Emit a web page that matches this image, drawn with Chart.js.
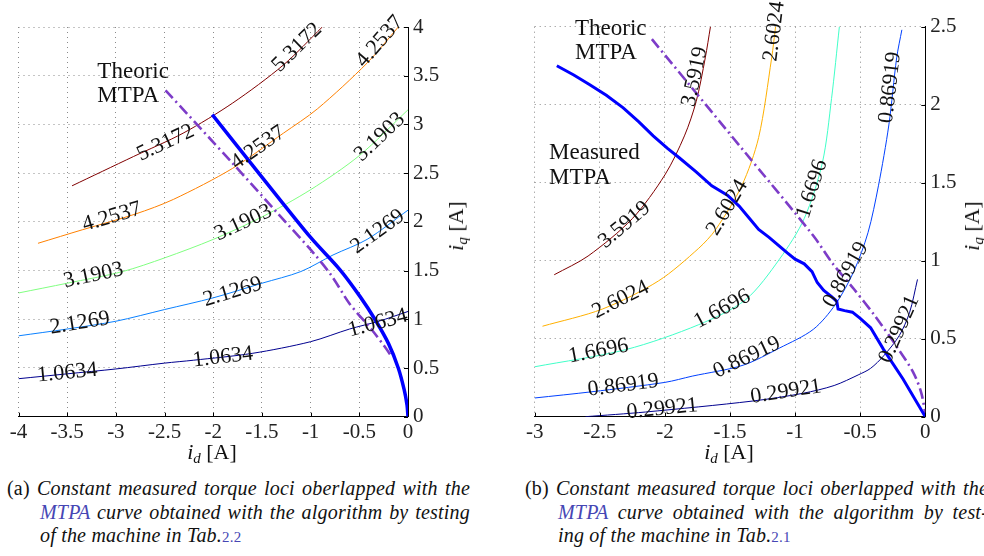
<!DOCTYPE html>
<html>
<head>
<meta charset="utf-8">
<script src="https://cdn.jsdelivr.net/npm/chart.js@4.4.1/dist/chart.umd.min.js"></script>
<style>
  html, body { margin: 0; padding: 0; background: #fff; }
  body { position: relative; width: 984px; height: 556px; overflow: hidden; font-family: "Liberation Serif", "Times New Roman", serif; color: #111; }
  .box { position: absolute; top: 0; width: 492px; height: 470px; }
  .ttl { position: absolute; font-size: 22px; white-space: nowrap; transform: translate(-50%, -50%); color: #111; }
  .ttl sub { font-size: 15px; vertical-align: -4px; }
  .ttl.rot { transform: translate(-50%, -50%) rotate(-90deg); }
  .cap { position: absolute; top: 477px; font-size: 20px; letter-spacing: 0.2px; line-height: 23.5px; white-space: nowrap; }
  .cap .j { text-align: justify; text-align-last: justify; }
  .cap .in { margin-left: 33px; }
  .ln { color: #4646b4; }
  .ref { font-size: 15px; font-style: normal; }
</style>
</head>
<body>
<div class="box" style="left:0"><canvas id="chartA"></canvas></div>
<div class="box" style="left:492px"><canvas id="chartB"></canvas></div>

<div class="ttl" style="left:212px;top:453px"><i>i</i><sub><i>d</i></sub> [A]</div>
<div class="ttl rot" style="left:457px;top:226px"><i>i</i><sub><i>q</i></sub> [A]</div>
<div class="ttl" style="left:729px;top:453px"><i>i</i><sub><i>d</i></sub> [A]</div>
<div class="ttl rot" style="left:973px;top:226px"><i>i</i><sub><i>q</i></sub> [A]</div>

<div class="cap" style="left:7px;width:463px">
  <div class="j">(a) <i>Constant measured torque loci oberlapped with the</i></div>
  <div class="j in"><i><span class="ln">MTPA</span> curve obtained with the algorithm by testing</i></div>
  <div class="in"><i>of the machine in Tab.</i><span class="ln ref">2.2</span></div>
</div>
<div class="cap" style="left:525px;width:463px">
  <div class="j">(b) <i>Constant measured torque loci oberlapped with the</i></div>
  <div class="j in"><i><span class="ln">MTPA</span> curve obtained with the algorithm by test-</i></div>
  <div class="in"><i>ing of the machine in Tab.</i><span class="ln ref">2.1</span></div>
</div>

<script>
// ---- (a) machine of Tab.2.2 : constant torque loci, [id, iq] in A ----
const levelsA = ['1.0634', '2.1269', '3.1903', '4.2537', '5.3172'];
const locusA1 = [[-4, 0.39], [-3.5, 0.44], [-3, 0.49], [-2.5, 0.55], [-2.2, 0.58], [-1.6, 0.65], [-1.0, 0.77], [-0.6, 0.90], [-0.3, 0.98], [0, 1.08]];
const locusA2 = [[-4, 0.83], [-3.5, 0.90], [-3, 0.98], [-2.5, 1.10], [-2.0, 1.22], [-1.5, 1.37], [-1.1, 1.49], [-0.77, 1.66], [-0.42, 1.82], [0, 2.12]];
const locusA3 = [[-4, 1.27], [-3.5, 1.37], [-2.93, 1.49], [-2.5, 1.63], [-2.0, 1.82], [-1.5, 2.05], [-1.0, 2.33], [-0.5, 2.68], [0, 3.15]];
const locusA4 = [[-3.8, 1.78], [-3.34, 1.92], [-2.8, 2.08], [-2.41, 2.23], [-1.8, 2.55], [-1.28, 2.91], [-0.93, 3.16], [-0.42, 3.63], [-0.1, 4.0]];
const locusA5 = [[-3.45, 2.37], [-2.82, 2.67], [-2.31, 2.91], [-1.8, 3.22], [-1.28, 3.61], [-0.88, 4.0]];
const theoryA = [[-2.49, 3.35], [-1.8, 2.60], [-1.35, 2.10], [-0.97, 1.68], [-0.78, 1.44], [-0.60, 1.16], [-0.37, 0.89], [-0.24, 0.72], [-0.17, 0.62]];
const measuredA = [[-2.01, 3.10], [-1.5, 2.46], [-1.0, 1.84], [-0.70, 1.51], [-0.49, 1.23], [-0.34, 1.0], [-0.20, 0.75], [-0.10, 0.5], [-0.04, 0.28], [-0.01, 0.12], [0, 0]];
// contour tags: [locus index, id, iq]
const tagsA = [
  [0, -3.50, 0.45], [0, -1.90, 0.61], [0, -0.31, 0.96],
  [1, -3.37, 0.96], [1, -1.80, 1.28], [1, -0.31, 1.90],
  [2, -3.23, 1.45], [2, -1.69, 1.99], [2, -0.29, 2.87],
  [3, -3.04, 2.05], [3, -1.54, 2.76], [3, -0.29, 3.85],
  [4, -2.49, 2.81], [4, -1.14, 3.79]
];
const notesA = [['Theoric', -3.19, 3.48], ['MTPA', -3.19, 3.23]];

// ---- (b) machine of Tab.2.1 ----
const levelsB = ['0.29921', '0.86919', '1.6696', '2.6024', '3.5919'];
const locusB1 = [[-2.61, 0], [-2.15, 0.03], [-1.33, 0.10], [-0.94, 0.15], [-0.70, 0.20], [-0.51, 0.27], [-0.42, 0.31], [-0.32, 0.39], [-0.20, 0.52], [-0.12, 0.67], [-0.06, 0.88]];
const locusB2 = [[-3.0, 0.12], [-2.56, 0.16], [-2.0, 0.22], [-1.79, 0.26], [-1.40, 0.33], [-1.12, 0.44], [-0.86, 0.56], [-0.69, 0.72], [-0.55, 0.93], [-0.44, 1.18], [-0.36, 1.48], [-0.28, 1.87], [-0.22, 2.30], [-0.18, 2.48]];
const locusB3 = [[-3.0, 0.32], [-2.30, 0.43], [-1.74, 0.59], [-1.38, 0.75], [-1.12, 1.01], [-0.93, 1.27], [-0.79, 1.63], [-0.72, 2.04], [-0.66, 2.5]];
const locusB4 = [[-2.94, 0.58], [-2.48, 0.69], [-2.05, 0.87], [-1.74, 1.08], [-1.61, 1.20], [-1.41, 1.48], [-1.28, 1.79], [-1.18, 2.30], [-1.15, 2.5]];
const locusB5 = [[-2.85, 0.91], [-2.59, 1.03], [-2.25, 1.27], [-2.0, 1.55], [-1.85, 1.80], [-1.76, 2.02], [-1.69, 2.30], [-1.65, 2.5]];
const theoryB = [[-2.10, 2.42], [-1.4, 1.71], [-0.86, 1.16], [-0.71, 0.98], [-0.55, 0.82], [-0.39, 0.65], [-0.22, 0.45], [-0.09, 0.28], [-0.03, 0.15], [0, 0.02]];
const measuredB = [
  [-2.83, 2.25], [-2.70, 2.19], [-2.58, 2.13], [-2.45, 2.06], [-2.32, 1.98], [-2.20, 1.89], [-2.09, 1.80],
  [-1.98, 1.72], [-1.89, 1.66], [-1.76, 1.57], [-1.64, 1.48], [-1.52, 1.42], [-1.43, 1.35], [-1.35, 1.27],
  [-1.28, 1.20], [-1.20, 1.15], [-1.13, 1.10], [-1.06, 1.05], [-1.00, 1.01], [-0.93, 0.98], [-0.87, 0.93],
  [-0.83, 0.86], [-0.78, 0.81], [-0.72, 0.77], [-0.68, 0.74], [-0.67, 0.69], [-0.62, 0.68], [-0.56, 0.67],
  [-0.50, 0.63], [-0.42, 0.57], [-0.32, 0.43], [-0.17, 0.24], [0, 0]
];
const tagsB = [
  [0, -2.02, 0.05], [0, -1.07, 0.16], [0, -0.20, 0.56],
  [1, -2.32, 0.20], [1, -1.37, 0.38], [1, -0.61, 0.91], [1, -0.27, 2.11],
  [2, -2.51, 0.42], [2, -1.56, 0.69], [2, -0.87, 1.46],
  [3, -2.34, 0.75], [3, -1.52, 1.34], [3, -1.16, 2.47],
  [4, -2.31, 1.23], [4, -1.77, 2.18]
];
const notesB = [['Theoric', -2.69, 2.45], ['MTPA', -2.69, 2.29], ['Measured', -2.89, 1.65], ['MTPA', -2.89, 1.49]];

// styles
const colorsA = ['#00008f', '#0a80ff', '#80ff80', '#ff8000', '#800000'];
const colorsB = ['#00008f', '#0040ff', '#40ffc8', '#ffb000', '#800000'];
const FONT = '"Liberation Serif", "Times New Roman", serif';

function toXY(pts) {
  return pts.map(p => ({ x: p[0], y: p[1] }));
}

function fmtTick(v) {
  return String(Math.round(v * 10) / 10);
}

// angle of the locus (in pixels) closest to a tag
function tagAngle(xs, ys, pts, px, py) {
  let best = 0, bestD = Infinity;
  for (let i = 0; i < pts.length - 1; i++) {
    const ax = xs.getPixelForValue(pts[i][0]), ay = ys.getPixelForValue(pts[i][1]);
    const bx = xs.getPixelForValue(pts[i + 1][0]), by = ys.getPixelForValue(pts[i + 1][1]);
    const dx = bx - ax, dy = by - ay;
    const t = Math.max(0, Math.min(1, ((px - ax) * dx + (py - ay) * dy) / (dx * dx + dy * dy)));
    const d = Math.hypot(ax + t * dx - px, ay + t * dy - py);
    if (d < bestD) { bestD = d; best = Math.atan2(dy, dx); }
  }
  if (best > Math.PI / 2) best -= Math.PI;
  if (best < -Math.PI / 2) best += Math.PI;
  return best;
}

// contour labels, text notes and inward ticks
const overlay = {
  id: 'overlay',
  afterDatasetsDraw(chart, args, opts) {
    const ctx = chart.ctx, xs = chart.scales.x, ys = chart.scales.y;
    const area = chart.chartArea;
    ctx.save();

    ctx.strokeStyle = '#000';
    ctx.lineWidth = 1;
    ctx.beginPath();
    xs.ticks.forEach(t => {
      const x = Math.round(xs.getPixelForValue(t.value)) + 0.5;
      ctx.moveTo(x, area.bottom);
      ctx.lineTo(x, area.bottom - 4);
    });
    ys.ticks.forEach(t => {
      const y = Math.round(ys.getPixelForValue(t.value)) + 0.5;
      ctx.moveTo(area.right, y);
      ctx.lineTo(area.right - 4, y);
    });
    ctx.stroke();

    ctx.fillStyle = '#111';
    ctx.font = '22px ' + FONT;
    ctx.textAlign = 'center';
    ctx.textBaseline = 'middle';
    opts.tags.forEach(([k, x, y]) => {
      const px = xs.getPixelForValue(x), py = ys.getPixelForValue(y);
      ctx.save();
      ctx.translate(px, py);
      ctx.rotate(tagAngle(xs, ys, opts.loci[k], px, py));
      ctx.fillText(opts.levels[k], 0, 0);
      ctx.restore();
    });

    ctx.font = '23px ' + FONT;
    ctx.textAlign = 'left';
    ctx.textBaseline = 'alphabetic';
    opts.notes.forEach(([txt, x, y]) => {
      ctx.fillText(txt, xs.getPixelForValue(x), ys.getPixelForValue(y));
    });
    ctx.restore();
  }
};

function buildChart(id, cfg) {
  const datasets = cfg.loci.map((pts, i) => ({
    data: toXY(pts),
    borderColor: cfg.colors[i],
    borderWidth: 1,
    tension: 0.3,
    order: 2
  }));
  datasets.push({
    data: toXY(cfg.theory),
    borderColor: '#7d3cc8',
    borderWidth: 2.6,
    borderDash: [11, 4, 2, 4],
    tension: 0.3,
    order: 1
  });
  datasets.push({
    data: toXY(cfg.measured),
    borderColor: '#0000ff',
    borderWidth: cfg.measWidth,
    tension: cfg.measTension,
    order: 0
  });

  const tickFont = { family: FONT, size: 21 };
  return new Chart(document.getElementById(id), {
    type: 'scatter',
    data: { datasets },
    options: {
      responsive: true,
      maintainAspectRatio: false,
      animation: false,
      showLine: true,
      elements: { point: { radius: 0 } },
      layout: { padding: { left: cfg.left, top: cfg.top, right: 0, bottom: 0 } },
      plugins: {
        legend: { display: false },
        tooltip: { enabled: false },
        overlay: { tags: cfg.tags, notes: cfg.notes, loci: cfg.loci, levels: cfg.levels }
      },
      scales: {
        x: {
          type: 'linear',
          min: cfg.xMin,
          max: 0,
          afterFit: s => { s.height = cfg.xH; },
          ticks: { stepSize: 0.5, autoSkip: false, maxRotation: 0, padding: 3, color: '#222', font: tickFont, callback: fmtTick },
          grid: { color: '#8a8a8a', drawTicks: false },
          border: { display: true, color: '#000', width: 1, dash: [1, 4] }
        },
        y: {
          type: 'linear',
          position: 'right',
          min: 0,
          max: cfg.yMax,
          afterFit: s => { s.width = cfg.yW; },
          ticks: { stepSize: 0.5, autoSkip: false, padding: 5, color: '#222', font: tickFont, callback: fmtTick },
          grid: { color: '#8a8a8a', drawTicks: false },
          border: { display: true, color: '#000', width: 1, dash: [1, 4] }
        }
      }
    },
    plugins: [overlay]
  });
}

function drawAll() {
  buildChart('chartA', {
    levels: levelsA,
    loci: [locusA1, locusA2, locusA3, locusA4, locusA5],
    colors: colorsA,
    theory: theoryA,
    measured: measuredA,
    measWidth: 3.5,
    measTension: 0.3,
    tags: tagsA,
    notes: notesA,
    xMin: -4, yMax: 4,
    left: 18.5, top: 27, xH: 53.3, yW: 84
  });

  buildChart('chartB', {
    levels: levelsB,
    loci: [locusB1, locusB2, locusB3, locusB4, locusB5],
    colors: colorsB,
    theory: theoryB,
    measured: measuredB,
    measWidth: 3,
    measTension: 0,
    tags: tagsB,
    notes: notesB,
    xMin: -3, yMax: 2.5,
    left: 42.7, top: 26.7, xH: 53.3, yW: 58.7
  });
}

// make sure the serif face is ready before the canvas text is drawn
Promise.all([
  document.fonts.load('20px "Liberation Serif"'),
  document.fonts.load('italic 20px "Liberation Serif"')
]).then(drawAll, drawAll);
</script>
</body>
</html>
